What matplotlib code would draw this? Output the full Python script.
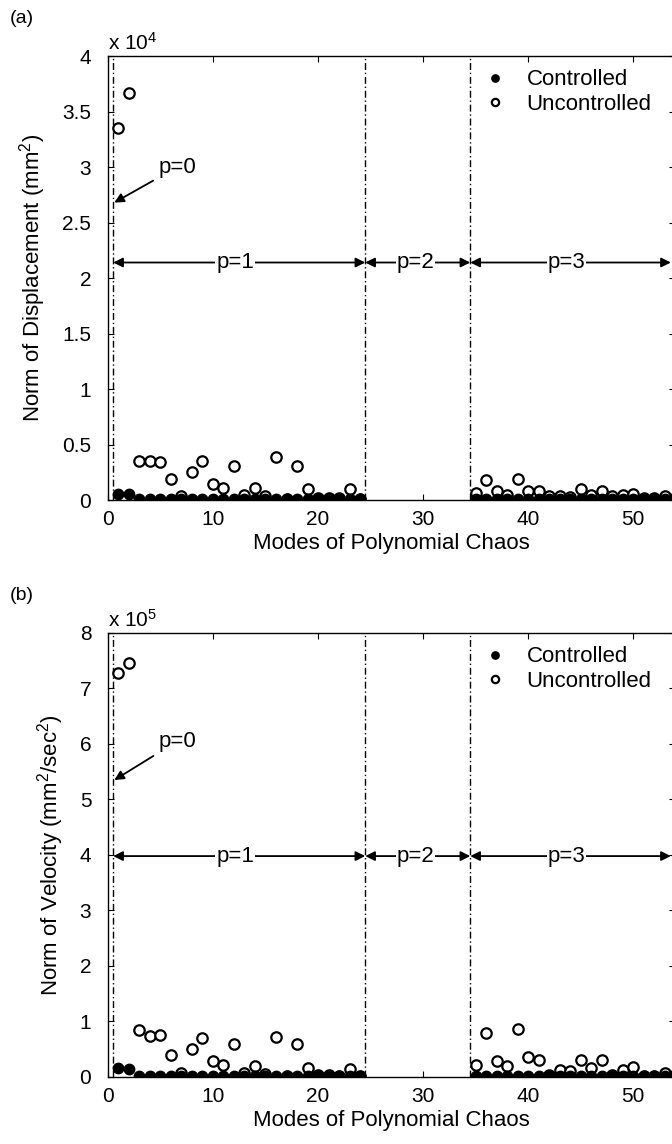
import matplotlib
matplotlib.use("Agg")
import matplotlib.pyplot as plt
import numpy as np

plt.rcParams["font.family"] = ["Liberation Sans", "DejaVu Sans"]
plt.rcParams["mathtext.default"] = "regular"

# mode indices that carry points (p=2 block 25..34 is empty in the figure)
modes = list(range(1, 25)) + list(range(35, 55))

# (a) norm of displacement, in units of 1e4 mm^2
disp_unc = [3.35, 3.67, 0.35, 0.35, 0.34, 0.19, 0.035, 0.255, 0.35, 0.145,
            0.105, 0.305, 0.045, 0.11, 0.035, 0.385, 0.01, 0.305, 0.10, 0.02,
            0.02, 0.015, 0.10, 0.01,
            0.066, 0.18, 0.081, 0.045, 0.186, 0.081, 0.081, 0.035, 0.035, 0.03,
            0.096, 0.045, 0.081, 0.035, 0.045, 0.05, 0.015, 0.015, 0.035, 0.02]
disp_ctl = [0.05, 0.05] + [0.01] * 22 + [0.01] * 20

# (b) norm of velocity, in units of 1e5 mm^2/sec^2
vel_unc = [7.27, 7.45, 0.85, 0.74, 0.755, 0.387, 0.08, 0.51, 0.70, 0.295,
           0.22, 0.60, 0.07, 0.20, 0.05, 0.72, 0.02, 0.60, 0.17, 0.03,
           0.03, 0.02, 0.15, 0.02,
           0.22, 0.79, 0.295, 0.20, 0.865, 0.36, 0.31, 0.04, 0.13, 0.10,
           0.30, 0.16, 0.30, 0.04, 0.13, 0.18, 0.02, 0.02, 0.07, 0.03]
vel_ctl = [0.16, 0.15] + [0.01] * 22 + [0.01] * 20

order_bounds = [0.5, 24.5, 34.5]
order_spans = [("p=1", 0.5, 24.5, 12.1), ("p=2", 24.5, 34.5, 29.3),
               ("p=3", 34.5, 53.6, 43.7)]

FS = 16
fig = plt.figure(figsize=(6.72, 11.44), dpi=100)


def panel(rect, unc, ctl, ymax, ystep, exp, ylabel, arrow_y, p0_text, p0_tip, tag):
    ax = fig.add_axes(rect)
    ax.plot(modes, unc, "o", mfc="white", mec="black", ms=7.5, mew=1.6,
            label="Uncontrolled", zorder=3)
    ax.plot(modes, ctl, "o", color="black", ms=7.5, label="Controlled", zorder=4)
    for b in order_bounds:
        ax.axvline(b, color="black", ls=(0, (5, 2, 1, 2)), lw=1.0, zorder=2)
    for txt, x0, x1, xt in order_spans:
        ax.annotate("", xy=(x1, arrow_y), xytext=(x0, arrow_y),
                    arrowprops=dict(arrowstyle="<|-|>", color="black", lw=1.3,
                                    mutation_scale=14, shrinkA=0, shrinkB=0))
        ax.text(xt, arrow_y, txt, ha="center", va="center", fontsize=FS,
                bbox=dict(fc="white", ec="none", pad=0.5), zorder=5)
    ax.annotate("p=0", xy=p0_tip, xytext=p0_text, ha="center", va="center",
                fontsize=FS,
                arrowprops=dict(arrowstyle="-|>", color="black", lw=1.3,
                                mutation_scale=14, shrinkA=2, shrinkB=0))
    ax.set_xlim(0, 54)
    ax.set_ylim(0, ymax)
    ax.set_xticks([0, 10, 20, 30, 40, 50])
    yt = np.arange(0, ymax + ystep / 2, ystep)
    ax.set_yticks(yt)
    ax.set_yticklabels([f"{v:g}" for v in yt])
    ax.tick_params(direction="in", top=True, right=True, length=4,
                   labelsize=15)
    ax.tick_params(axis="y", pad=12)
    ax.tick_params(axis="x", pad=7)
    for s in ax.spines.values():
        s.set_linewidth(1.0)
    ax.set_xlabel("Modes of Polynomial Chaos", fontsize=FS, labelpad=3)
    ax.set_ylabel(ylabel, fontsize=FS, labelpad=10)
    ax.text(0.0, 1.004, "x 10$^{%d}$" % exp, transform=ax.transAxes,
            ha="left", va="bottom", fontsize=15)
    h, l = ax.get_legend_handles_labels()
    ax.legend([h[1], h[0]], [l[1], l[0]], loc="upper left",
              bbox_to_anchor=(0.64, 1.0), frameon=False, fontsize=FS,
              markerscale=0.7, handlelength=1.0, handletextpad=0.9,
              labelspacing=0.15, borderaxespad=0.2)
    fig.text(0.015, rect[1] + rect[3] + 0.025, tag, fontsize=14, va="bottom")
    return ax


panel([0.1607, 0.5629, 0.8438, 0.3881], disp_unc, disp_ctl, 4, 0.5, 4,
      "Norm of Displacement (mm$^{2}$)", 2.14, (6.6, 3.0), (0.6, 2.68), "(a)")
panel([0.1607, 0.0586, 0.8438, 0.3881], vel_unc, vel_ctl, 8, 1, 5,
      "Norm of Velocity (mm$^{2}$/sec$^{2}$)", 3.98, (6.6, 6.05), (0.6, 5.35), "(b)")

fig.savefig("out.png", dpi=100)
